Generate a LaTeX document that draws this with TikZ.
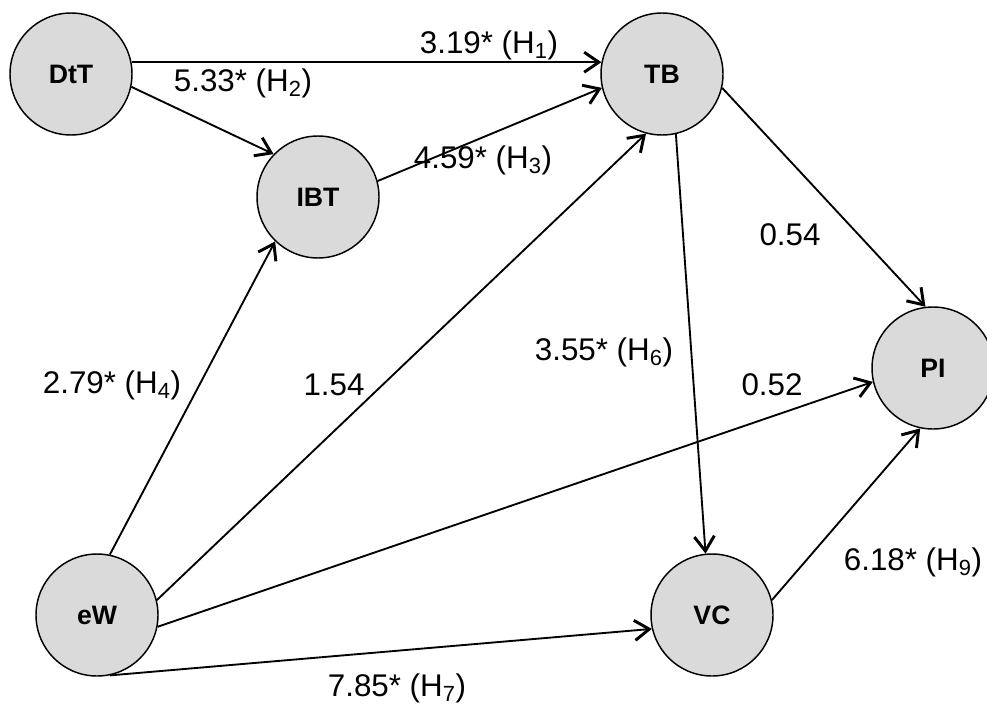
\documentclass[tikz,border=0pt]{standalone}
\usepackage{fontspec}
\setmainfont{Liberation Sans}
\usetikzlibrary{arrows.meta}
\tikzset{
  latent/.style={circle, draw=black, line width=1.1pt, fill={rgb,255:red,218;green,218;blue,218},
    minimum size=91.5pt, inner sep=0pt, font=\fontsize{20}{24}\selectfont\bfseries},
  path/.style={line width=1.4pt, -{Straight Barb[length=11pt,width=15pt,line width=2.2pt]}},
  lbl/.style={font=\fontsize{23.5}{28}\selectfont, inner sep=0pt}
}
\begin{document}
\begin{tikzpicture}[x=0.75pt,y=-0.75pt]
\useasboundingbox (0,0) rectangle (987,706);
\fill[white] (0,0) rectangle (987,706);
\node[latent] (DtT) at (71,74) {DtT};
\node[latent] (IBT) at (318,197) {IBT};
\node[latent] (TB) at (662,74) {TB};
\node[latent] (PI) at (933,368) {PI};
\node[latent] (eW) at (97,615) {eW};
\node[latent] (VC) at (712,615) {VC};

\draw[path] (DtT.11) -- (TB.169);
\draw[path] (DtT.-12) -- (IBT.136);
\draw[path] (IBT.15) -- (TB.-167);
\draw[path] (eW.78) -- (IBT.226);
\draw[path] (eW.14) -- (TB.255);
\draw[path] (eW.-11) -- (PI.193);
\draw[path] (eW.-78) -- (VC.193);
\draw[path] (TB.-77) -- (VC.96);
\draw[path] (TB.-13) -- (PI.97);
\draw[path] (VC.14) -- (PI.258);

\node[lbl] (l1) at (489,45) {3.19* (H\textsubscript{1})};
\node[lbl] (l2) at (243,83) {5.33* (H\textsubscript{2})};
\node[lbl] (l3) at (483,160) {4.59* (H\textsubscript{3})};
\node[lbl] (l4) at (112,385) {2.79* (H\textsubscript{4})};
\node[lbl] (l5) at (334,385) {1.54};
\node[lbl] (l6) at (604,352) {3.55* (H\textsubscript{6})};
\node[lbl] (l7) at (790,235) {0.54};
\node[lbl] (l8) at (772,385) {0.52};
\node[lbl] (l9) at (913,562) {6.18* (H\textsubscript{9})};
\node[lbl] (l10) at (397,688) {7.85* (H\textsubscript{7})};
\end{tikzpicture}
\end{document}
